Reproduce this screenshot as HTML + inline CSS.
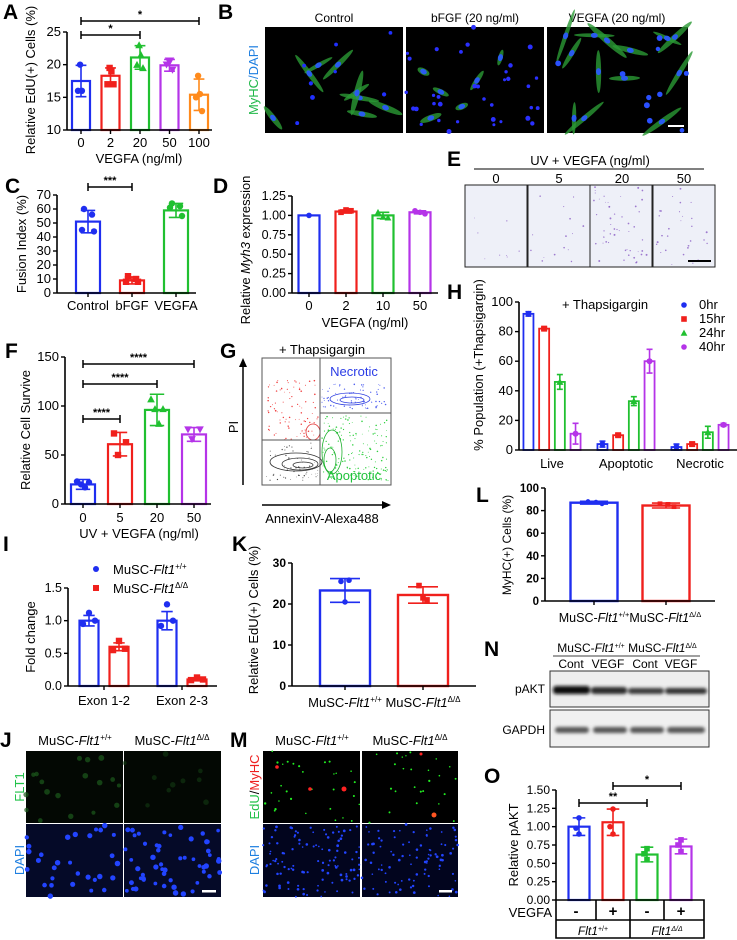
<!DOCTYPE html>
<html><head><meta charset="utf-8"><style>
html,body{margin:0;padding:0;background:#fff;}
svg{display:block;font-family:"Liberation Sans",Arial,sans-serif;}
</style></head><body>
<svg id="fig" width="737" height="940" viewBox="0 0 737 940" xmlns="http://www.w3.org/2000/svg">
<g font-weight="bold" font-size="21" fill="#000">
<text x="3" y="19">A</text>
<text x="218" y="19">B</text>
<text x="5" y="193">C</text>
<text x="213" y="193">D</text>
<text x="447" y="166">E</text>
<text x="5" y="358">F</text>
<text x="220" y="358">G</text>
<text x="447" y="299">H</text>
<text x="3" y="551">I</text>
<text x="232" y="551">K</text>
<text x="476" y="502">L</text>
<text x="484" y="656">N</text>
<text x="0" y="747">J</text>
<text x="230" y="747">M</text>
<text x="484" y="783">O</text>
</g>

<!-- Panel B -->
<g font-size="12">
<text x="334" y="22" text-anchor="middle">Control</text>
<text x="475" y="22" text-anchor="middle">bFGF (20 ng/ml)</text>
<text x="617" y="22" text-anchor="middle">VEGFA (20 ng/ml)</text>
<text transform="translate(258,80) rotate(-90)" text-anchor="middle" font-size="13"><tspan fill="#22b84a">MyHC</tspan><tspan fill="#1e7fe0">/DAPI</tspan></text>
<rect x="265" y="27" width="138" height="106" fill="#000" id="b1"/>
<rect x="406" y="27" width="138" height="106" fill="#000" id="b2"/>
<rect x="547" y="27" width="141" height="106" fill="#000" id="b3"/>
</g>

<!-- Panel E -->
<g font-size="13">
<text x="590" y="165" text-anchor="middle">UV + VEGFA (ng/ml)</text>
<line x1="474" y1="169" x2="704" y2="169" stroke="#000" stroke-width="1"/>
<text x="496" y="183" text-anchor="middle">0</text>
<text x="559" y="183" text-anchor="middle">5</text>
<text x="622" y="183" text-anchor="middle">20</text>
<text x="684" y="183" text-anchor="middle">50</text>
<g id="eimgs"></g>
</g>

<!-- Panel G -->
<g font-size="13">
<text x="322" y="354" text-anchor="middle">+ Thapsigargin</text>
<rect x="262" y="358" width="129" height="127" fill="#fff" stroke="#555" stroke-width="1"/>
<g id="gdots"></g>
<line x1="320" y1="358" x2="320" y2="485" stroke="#555"/>
<line x1="320" y1="413" x2="391" y2="413" stroke="#555"/>
<line x1="262" y1="440" x2="320" y2="440" stroke="#555"/>
<text x="354" y="376" text-anchor="middle" fill="#2a3be6" font-size="13">Necrotic</text>
<text x="354" y="480" text-anchor="middle" fill="#1fc23a" font-size="13">Apoptotic</text>
<line x1="243" y1="485" x2="243" y2="366" stroke="#000" stroke-width="1.5"/>
<polygon points="243,358 239,367 247,367" fill="#000"/>
<line x1="262" y1="505" x2="383" y2="505" stroke="#000" stroke-width="1.5"/>
<polygon points="391,505 382,501 382,509" fill="#000"/>
<text transform="translate(238,427) rotate(-90)" text-anchor="middle">PI</text>
<text x="322" y="523" text-anchor="middle">AnnexinV-Alexa488</text>
</g>

<!-- Panel N -->
<g font-size="12">
<text x="627" y="652" text-anchor="middle">MuSC-<tspan font-style="italic">Flt1</tspan><tspan font-size="7" dy="-4">+/+</tspan><tspan dy="4"> MuSC-</tspan><tspan font-style="italic">Flt1</tspan><tspan font-size="7" dy="-4">Δ/Δ</tspan></text>
<line x1="553" y1="656" x2="700" y2="656" stroke="#000" stroke-width="0.8"/>
<text x="571" y="668" text-anchor="middle">Cont</text>
<text x="608" y="668" text-anchor="middle">VEGF</text>
<text x="645" y="668" text-anchor="middle">Cont</text>
<text x="681" y="668" text-anchor="middle">VEGF</text>
<text x="545" y="693" text-anchor="end">pAKT</text>
<text x="545" y="734" text-anchor="end">GAPDH</text>
<defs>
<filter id="blur2"><feGaussianBlur stdDeviation="1.6"/></filter>
</defs>
<rect x="550" y="671" width="159" height="36" fill="#eeeeee" stroke="#333" stroke-width="1"/>
<rect x="550" y="710" width="159" height="37" fill="#f0f0f0" stroke="#333" stroke-width="1"/>
<g filter="url(#blur2)">
<rect x="553" y="686" width="37" height="8" rx="3" fill="#111"/>
<rect x="591" y="687" width="36" height="7" rx="3" fill="#2a2a2a"/>
<rect x="628" y="688" width="36" height="6" rx="3" fill="#3a3a3a"/>
<rect x="665" y="688" width="42" height="6" rx="3" fill="#333"/>
<rect x="555" y="727" width="34" height="6" rx="3" fill="#555"/>
<rect x="593" y="727" width="34" height="6" rx="3" fill="#555"/>
<rect x="630" y="727" width="34" height="6" rx="3" fill="#555"/>
<rect x="667" y="727" width="38" height="6" rx="3" fill="#555"/>
</g>
</g>

<!-- Panels J and M -->
<g font-size="13">
<text x="75" y="745" text-anchor="middle">MuSC-<tspan font-style="italic">Flt1</tspan><tspan font-size="8" dy="-5">+/+</tspan></text>
<text x="172" y="745" text-anchor="middle">MuSC-<tspan font-style="italic">Flt1</tspan><tspan font-size="8" dy="-5">Δ/Δ</tspan></text>
<text transform="translate(24,787) rotate(-90)" text-anchor="middle" fill="#22c24a" font-size="13">FLT1</text>
<text transform="translate(24,860) rotate(-90)" text-anchor="middle" fill="#1e7fe0" font-size="13">DAPI</text>
<rect x="26" y="751" width="97" height="72" fill="#030803"/>
<rect x="124" y="751" width="97" height="72" fill="#030803"/>
<rect x="26" y="824" width="97" height="73" fill="#050a28"/>
<rect x="124" y="824" width="97" height="73" fill="#050a28"/>
<g id="jcells"></g>
<rect x="202" y="890" width="14" height="2.5" fill="#fff"/>
</g>
<g font-size="13">
<text x="312" y="745" text-anchor="middle">MuSC-<tspan font-style="italic">Flt1</tspan><tspan font-size="8" dy="-5">+/+</tspan></text>
<text x="410" y="745" text-anchor="middle">MuSC-<tspan font-style="italic">Flt1</tspan><tspan font-size="8" dy="-5">Δ/Δ</tspan></text>
<text transform="translate(259,787) rotate(-90)" text-anchor="middle" font-size="13"><tspan fill="#22c24a">EdU</tspan><tspan fill="#000">/</tspan><tspan fill="#ee2020">MyHC</tspan></text>
<text transform="translate(259,860) rotate(-90)" text-anchor="middle" fill="#1e7fe0" font-size="13">DAPI</text>
<rect x="263" y="751" width="97" height="72" fill="#000"/>
<rect x="362" y="751" width="96" height="72" fill="#000"/>
<rect x="263" y="824" width="97" height="73" fill="#02051e"/>
<rect x="362" y="824" width="96" height="73" fill="#02051e"/>
<g id="mcells"></g>
<rect x="439" y="890" width="13" height="2.5" fill="#fff"/>
</g>

<g id="charts"></g>
</svg>
<script>
// ---------------- DATA ----------------
const aCats = ['0','2','20','50','100'];
const aVals = [17.5, 18.3, 21.1, 19.9, 15.4];
const aErr = [2.4, 1.2, 1.8, 0.9, 2.4];
const aPts = [[20,16,16],[19.5,19,17,17],[23,21.5,20,19.5],[20.6,20.6,20,19.2],[18.3,15.5,15,12.9]];
const aTicks = [10,15,20,25];

const cCats = ['Control','bFGF','VEGFA'];
const cVals = [51, 9, 59];
const cErr = [8, 2.5, 5];
const cPts = [[60,56,45,44],[12,10,8,8],[64,62,61,55]];
const cTicks = [0,10,20,30,40,50,60,70];

const dCats = ['0','2','10','50'];
const dVals = [1.0, 1.05, 1.0, 1.04];
const dErr = [0, 0.02, 0.04, 0.02];
const dPts = [[1.0],[1.04,1.07,1.06],[1.04,0.98,0.97],[1.06,1.04,1.02]];
const dTicks = [0,0.25,0.5,0.75,1.0,1.25];

const fCats = ['0','5','20','50'];
const fVals = [20, 61, 96, 71];
const fErr = [5, 12, 16, 7];
const fPts = [[23,22,20,17],[72,63,50],[107,97,97,82],[76,76,66]];
const fTicks = [0,50,100,150];

const hGroups = ['Live','Apoptotic','Necrotic'];
const hSeries = ['0hr','15hr','24hr','40hr'];
const hVals = [[92,82,46,11],[4,10,33,60],[2,4,12,17]];
const hErr = [[1.5,1,5,7],[2,1,3,8],[2,1,4,1]];
const hTicks = [0,20,40,60,80,100];

const iGroups = ['Exon 1-2','Exon 2-3'];
const iVals = [[1.0,0.6],[1.0,0.1]];
const iErr = [[0.08,0.06],[0.14,0.02]];
const iPts = [[[1.12,1.0,0.95],[0.69,0.57,0.55]],[[1.25,1.0,0.92],[0.13,0.1,0.09]]];
const iTicks = [0,0.5,1.0,1.5];

const kVals = [23.3, 22.2];
const kErr = [2.9, 2.0];
const kPts = [[25.5,25.8,20.5],[24.5,21,21.5]];
const kTicks = [0,10,20,30];

const lVals = [87, 84.5];
const lErr = [1.2, 2.2];
const lPts = [[88,87.5,86],[86,85.5,83.5]];
const lTicks = [0,20,40,60,80,100];

const oVals = [1.0, 1.06, 0.62, 0.73];
const oErr = [0.12, 0.18, 0.1, 0.1];
const oPts = [[1.12,0.98,0.9],[1.24,1.0,0.9],[0.7,0.63,0.55],[0.82,0.75,0.66]];
const oTicks = [0,0.25,0.5,0.75,1.0,1.25,1.5];
const oVegfa = ['-','+','-','+'];

// ---------------- HELPERS ----------------
const NS = 'http://www.w3.org/2000/svg';
const root = document.getElementById('charts');
const BL='#1f2ef0', RD='#f0201c', GR='#20c030', PU='#b534e8', OR='#ff8a1c';
function mk(tag, parent, attrs){ const e=document.createElementNS(NS,tag); for(const k in attrs) e.setAttribute(k,attrs[k]); (parent||root).appendChild(e); return e; }
function lin(d0,d1,r0,r1){ const f = v => r0 + (v-d0)/(d1-d0)*(r1-r0); f.base=d0; return f; }
function marker(g, shape, x, y, color, s){
  s = s||3.2; let e;
  if(shape==='c'){ e=mk('circle',g,{cx:x,cy:y,r:s,fill:color}); }
  else if(shape==='s'){ e=mk('rect',g,{x:x-s,y:y-s,width:2*s,height:2*s,fill:color}); }
  else if(shape==='t'){ e=mk('polygon',g,{points:`${x},${y-s*1.2} ${x-s*1.2},${y+s} ${x+s*1.2},${y+s}`,fill:color}); }
  else { e=mk('polygon',g,{points:`${x},${y+s*1.2} ${x-s*1.2},${y-s} ${x+s*1.2},${y-s}`,fill:color}); }
  
  
}
function yAxis(g, x, y, ticks, fmt, fs, bold){
  const ax=mk('line',g,{x1:x,y1:y(ticks[0]),x2:x,y2:y(ticks[ticks.length-1]),stroke:'#000','stroke-width':1.6});
  
  
  ticks.forEach(t=>{
    const tl=mk('line',g,{x1:x-4,y1:y(t),x2:x,y2:y(t),stroke:'#000','stroke-width':1.4});
    
    
    const tx=mk('text',g,{x:x-6,y:y(t)+4,'text-anchor':'end','font-size':fs||12,'font-weight':bold?'bold':'normal'});
    tx.textContent=fmt?fmt(t):String(t);
    
    
  });
}
function xAxisLine(g, x1, x2, y){
  const l=mk('line',g,{x1:x1,y1:y,x2:x2,y2:y,stroke:'#000','stroke-width':1.6});
  
  
}
function txt(g, s, x, y, opts){
  const t=mk('text',g,Object.assign({x:x,y:y,'text-anchor':'middle','font-size':13},opts||{}));
  t.textContent=s; return t;
}
function bar(g, cx, w, y, v, e, color, sw, name){
  const b=mk('rect',g,{x:cx-w/2,y:y(v),width:w,height:y(y.base)-y(v),fill:'none',stroke:color,'stroke-width':sw||2});
  
  
  if(e>0){
    const eg=mk('path',g,{d:`M${cx} ${y(v+e)}V${y(v-e)}M${cx-w*0.3} ${y(v+e)}H${cx+w*0.3}M${cx-w*0.3} ${y(v-e)}H${cx+w*0.3}`,stroke:color,'stroke-width':1.6,fill:'none'});
    
    
  }
}
function sig(g, x1, x2, y, s){
  const p=mk('path',g,{d:`M${x1} ${y-4}V${y+4}M${x1} ${y}H${x2}M${x2} ${y-4}V${y+4}`,stroke:'#000','stroke-width':1.5,fill:'none'});
  
  
  const t=txt(g,s,(x1+x2)/2,y-3,{'font-size':11,'font-weight':'bold'});
  
  
}
function ylabel(g, s, x, y, fs, bold){
  const t=mk('text',g,{transform:`translate(${x},${y}) rotate(-90)`,'text-anchor':'middle','font-size':fs||13,'font-weight':bold?'bold':'normal'});
  t.innerHTML=s;
  
  
}
function xTick(g,x,y){
  const l=mk('line',g,{x1:x,y1:y,x2:x,y2:y+4,stroke:'#000','stroke-width':1.4});
  
  
}
const f2 = t=>t.toFixed(2), f1 = t=>t.toFixed(1);

// ---------------- PANEL A ----------------
(function(){
  const g=mk('g',root,{});  
  const y=lin(10,25,130,32), x=i=>81+i*29.5, cols=[BL,RD,GR,PU,OR], sh=['c','s','t','v','c'];
  aVals.forEach((v,i)=>{ bar(g,x(i),18,y,v,aErr[i],cols[i],2.2); aPts[i].forEach((p,j)=>marker(g,sh[i],x(i)+(j%2?3:-3)*(j>1?1:0.3),y(p),cols[i])); });
  yAxis(g,67,y,aTicks,null,13); xAxisLine(g,67,212,130);
  aCats.forEach((c,i)=>{ xTick(g,x(i),130); const t=txt(g,c,x(i),147,{'font-size':13});   });
  const xt=txt(g,'VEGFA (ng/ml)',139,163);  
  ylabel(g,'Relative EdU(+) Cells (%)',35,80,13);
  sig(g,x(0),x(4),21,'*'); sig(g,x(0),x(2),35,'*');
})();

// ---------------- PANEL C ----------------
(function(){
  const g=mk('g',root,{});  
  const y=lin(0,70,293,195), x=i=>88+i*44, cols=[BL,RD,GR], sh=['c','s','c'];
  cVals.forEach((v,i)=>{ bar(g,x(i),24,y,v,cErr[i],cols[i],2.2); cPts[i].forEach((p,j)=>marker(g,sh[i],x(i)+[-4,4,-6,6][j],y(p),cols[i])); });
  yAxis(g,57,y,cTicks,null,13); xAxisLine(g,57,196,293);
  cCats.forEach((c,i)=>{ xTick(g,x(i),293); const t=txt(g,c,x(i),310);   });
  ylabel(g,'Fusion Index (%)',26,244,13);
  sig(g,x(0),x(1),187,'***');
})();

// ---------------- PANEL D ----------------
(function(){
  const g=mk('g',root,{});  
  const y=lin(0,1.25,293,196), x=i=>309+i*37, cols=[BL,RD,GR,PU], sh=['c','s','t','c'];
  dVals.forEach((v,i)=>{ bar(g,x(i),21,y,v,dErr[i],cols[i],2.2); dPts[i].forEach((p,j)=>marker(g,sh[i],x(i)+[-5,0,5][j]*(dPts[i].length>1?1:0),y(p),cols[i],2.8)); });
  yAxis(g,292,y,dTicks,f2,12.5); xAxisLine(g,292,438,293);
  dCats.forEach((c,i)=>{ xTick(g,x(i),293); const t=txt(g,c,x(i),310);   });
  const xt=txt(g,'VEGFA (ng/ml)',365,327);  
  ylabel(g,'Relative <tspan font-style="italic">Myh3</tspan> expression',250,250,13);
})();

// ---------------- PANEL F ----------------
(function(){
  const g=mk('g',root,{});  
  const y=lin(0,150,504,357), x=i=>83+i*37, cols=[BL,RD,GR,PU], sh=['c','s','t','v'];
  fVals.forEach((v,i)=>{ bar(g,x(i),24,y,v,fErr[i],cols[i],2.2); fPts[i].forEach((p,j)=>marker(g,sh[i],x(i)+[-6,6,-2,2][j],y(p),cols[i])); });
  yAxis(g,65,y,fTicks,null,13); xAxisLine(g,65,211,504);
  fCats.forEach((c,i)=>{ xTick(g,x(i),504); const t=txt(g,c,x(i),522,{'font-size':13});   });
  const xt=txt(g,'UV + VEGFA (ng/ml)',139,538);  
  ylabel(g,'Relative Cell Survive',30,430,13);
  sig(g,x(0),x(3),364,'****'); sig(g,x(0),x(2),384,'****'); sig(g,x(0),x(1),419,'****');
})();

// ---------------- PANEL H ----------------
(function(){
  const g=mk('g',root,{});  
  const y=lin(0,100,450,302), cols=[BL,RD,GR,PU], sh=['c','s','t','c'];
  const x=(gi,j)=>552+gi*74+(j-1.5)*15.7;
  hVals.forEach((row,gi)=>row.forEach((v,j)=>{ bar(g,x(gi,j),10,y,v,hErr[gi][j],cols[j],1.8); marker(g,sh[j],x(gi,j),y(v),cols[j],3); }));
  yAxis(g,519,y,hTicks,null,13); xAxisLine(g,519,737,450);
  hGroups.forEach((c,i)=>{ const t=txt(g,c,552+i*74,468,{'font-size':13});   });
  ylabel(g,'% Population (+Thapsigargin)',483,365,13);
  const tt=txt(g,'+ Thapsigargin',605,309);  
  hSeries.forEach((s,j)=>{
    const lg=mk('g',g,{});  
    marker(lg,sh[j],684,305+j*14,cols[j],2.8);
    const t=mk('text',lg,{x:699,y:309+j*14,'font-size':13}); t.textContent=s;
  });
})();

// ---------------- PANEL I ----------------
(function(){
  const g=mk('g',root,{});  
  const y=lin(0,1.5,686,588), cols=[BL,RD], sh=['c','s'];
  const x=(gi,j)=>104+gi*78+(j-0.5)*30;
  iVals.forEach((row,gi)=>row.forEach((v,j)=>{ bar(g,x(gi,j),19,y,v,iErr[gi][j],cols[j],2.2); iPts[gi][j].forEach((p,k)=>marker(g,sh[j],x(gi,j)+[0,6,-6][k],y(p),cols[j])); }));
  yAxis(g,68,y,iTicks,f1,12.5); xAxisLine(g,68,217,686);
  iGroups.forEach((c,i)=>{ xTick(g,104+i*78,686); const t=txt(g,c,104+i*78,705);   });
  ylabel(g,'Fold change',35,637,13);
  ['+/+','Δ/Δ'].forEach((s,j)=>{
    const lg=mk('g',g,{});  
    marker(lg,sh[j],96,569+j*19,cols[j],3);
    const t=mk('text',lg,{x:113,y:574+j*19,'font-size':13});
    t.innerHTML='MuSC-<tspan font-style="italic">Flt1</tspan><tspan font-size="8" dy="-5">'+s+'</tspan>';
  });
})();

// ---------------- PANEL K ----------------
(function(){
  const g=mk('g',root,{});  
  const y=lin(0,30,686,563), x=i=>345+i*78, cols=[BL,RD], sh=['c','s'];
  kVals.forEach((v,i)=>{ bar(g,x(i),50,y,v,kErr[i],cols[i],2.4); kPts[i].forEach((p,j)=>marker(g,sh[i],x(i)+[-4,4,0][j],y(p),cols[i],2.8)); });
  yAxis(g,292,y,kTicks,null,12,true); xAxisLine(g,292,476,686);
  ['+/+','Δ/Δ'].forEach((s,i)=>{ xTick(g,x(i),686); const t=mk('text',g,{x:x(i),y:707,'text-anchor':'middle','font-size':13}); t.innerHTML='MuSC-<tspan font-style="italic">Flt1</tspan><tspan font-size="8" dy="-5">'+s+'</tspan>';   });
  ylabel(g,'Relative EdU(+) Cells (%)',258,620,13);
})();

// ---------------- PANEL L ----------------
(function(){
  const g=mk('g',root,{});  
  const y=lin(0,100,601,488), x=i=>594+i*72, cols=[BL,RD], sh=['c','s'];
  lVals.forEach((v,i)=>{ bar(g,x(i),47,y,v,lErr[i],cols[i],2.4); lPts[i].forEach((p,j)=>marker(g,sh[i],x(i)+[-6,2,8][j],y(p),cols[i],2.4)); });
  yAxis(g,545,y,lTicks,null,11.5,true); xAxisLine(g,545,715,601);
  xTick(g,x(0),601); xTick(g,x(1),601);
  const t=mk('text',g,{x:630,y:622,'text-anchor':'middle','font-size':12.5}); t.innerHTML='MuSC-<tspan font-style="italic">Flt1</tspan><tspan font-size="7.5" dy="-5">+/+</tspan><tspan dy="5">MuSC-</tspan><tspan font-style="italic">Flt1</tspan><tspan font-size="7.5" dy="-5">Δ/Δ</tspan>';
   
  ylabel(g,'MyHC(+) Cells (%)',511,545,12);
})();

// ---------------- PANEL O ----------------
(function(){
  const g=mk('g',root,{});  
  const y=lin(0,1.5,900,790), x=i=>579+i*34, cols=[BL,RD,GR,PU], sh=['c','c','s','s'];
  oVals.forEach((v,i)=>{ bar(g,x(i),21,y,v,oErr[i],cols[i],2.2); oPts[i].forEach((p,j)=>marker(g,sh[i],x(i)+[0,-3,0][j],y(p),cols[i],2.8)); });
  yAxis(g,556,y,oTicks,f2,12);
  ylabel(g,'Relative pAKT',518,845,13);
  sig(g,x(0),x(2),803,'**'); sig(g,x(1),x(3),786,'*');
  const tb=mk('path',g,{d:'M556 900H704V938H556ZM556 920H704M596 900V920M630 900V938M664 900V920',fill:'none',stroke:'#000','stroke-width':1.6});
   
  oVegfa.forEach((s,i)=>{ const t=txt(g,s,x(i)-(i===0?3:0),916,{'font-size':15,'font-weight':'bold'});   });
  const vl=txt(g,'VEGFA',552,917,{'text-anchor':'end'});  
  const g1=mk('text',g,{x:593,y:935,'text-anchor':'middle','font-size':12,'font-style':'italic'}); g1.innerHTML='Flt1<tspan font-size="7" dy="-4" font-style="normal">+/+</tspan>';
   
  const g2=mk('text',g,{x:667,y:935,'text-anchor':'middle','font-size':12,'font-style':'italic'}); g2.innerHTML='Flt1<tspan font-size="7" dy="-4">Δ/Δ</tspan>';
   
})();

// ---------------- DECORATIVE IMAGE TEXTURES ----------------
let seed=7; function rnd(){ seed=(seed*16807)%2147483647; return (seed-1)/2147483646; }
function cells(gid, x0,y0,w,h,n,color,r1,r2,op){
  const g=document.getElementById(gid);
  for(let i=0;i<n;i++){ mk('circle',g,{cx:x0+rnd()*w,cy:y0+rnd()*h,r:r1+rnd()*(r2-r1),fill:color,opacity:op||1}); }
}
function fibers(gid,x0,y0,w,h,n,len){
  const g=document.getElementById(gid);
  for(let i=0;i<n;i++){ const cx=x0+8+rnd()*(w-16), cy=y0+8+rnd()*(h-16), a=rnd()*180;
    mk('ellipse',g,{cx:cx,cy:cy,rx:len*(0.6+rnd()*0.6),ry:1.8+rnd()*1.5,fill:'#2a9a35',opacity:0.8,transform:`rotate(${a} ${cx} ${cy})`});
    mk('ellipse',g,{cx:cx,cy:cy,rx:3.5,ry:2.5,fill:'#2a5bf0',transform:`rotate(${a} ${cx} ${cy})`}); }
}
const bg=mk('g',document.getElementById('fig'),{id:'bdec'});  
fibers('bdec',265,27,138,106,9,20); cells('bdec',265,27,138,106,8,'#2030ff',1.5,2.5);
fibers('bdec',406,27,138,106,6,10); cells('bdec',406,27,138,106,35,'#2a30ff',1.5,2.5);
fibers('bdec',547,27,141,106,13,24); cells('bdec',547,27,141,106,10,'#2a50ff',2,3);
mk('rect',bg,{x:668,y:125,width:16,height:2,fill:'#fff'});
const eg=document.getElementById('eimgs');
[465,528,590,653].forEach((x,k)=>{ const r=mk('rect',eg,{x:x,y:185,width:62,height:82,fill:'#eef0f8',stroke:'#222','stroke-width':1});   cells('eimgs',x+2,187,58,78,[8,15,50,30][k],'#8a5cc4',0.4,1,0.8); });
mk('rect',eg,{x:688,y:260,width:23,height:2,fill:'#000'});
const gd=document.getElementById('gdots');
cells('gdots',268,380,50,60,90,'#f04040',0.4,0.8);
cells('gdots',322,384,66,25,70,'#5060f0',0.4,0.8);
cells('gdots',322,416,66,65,160,'#30d040',0.4,0.8);
cells('gdots',266,443,52,38,60,'#444',0.3,0.7);
[[296,462,26,9],[300,464,18,6],[303,465,10,3]].forEach(e=>mk('ellipse',gd,{cx:e[0],cy:e[1],rx:e[2],ry:e[3],fill:'none',stroke:'#333','stroke-width':0.8}));
[[350,399,20,6],[352,400,12,3]].forEach(e=>mk('ellipse',gd,{cx:e[0],cy:e[1],rx:e[2],ry:e[3],fill:'none',stroke:'#3040e0','stroke-width':0.8}));
[[332,452,10,22],[330,460,6,12]].forEach(e=>mk('ellipse',gd,{cx:e[0],cy:e[1],rx:e[2],ry:e[3],fill:'none',stroke:'#20b030','stroke-width':0.8}));
mk('ellipse',gd,{cx:313,cy:432,rx:7,ry:8,fill:'none',stroke:'#e03030','stroke-width':0.8});
cells('jcells',26,751,97,72,18,'#1c5a1c',2,3,0.7);
cells('jcells',124,751,97,72,10,'#123a12',2,3,0.6);
cells('jcells',26,824,97,73,30,'#2244ff',1.8,2.8);
cells('jcells',124,824,97,73,55,'#2244ff',1.8,2.8);
cells('mcells',263,751,97,72,30,'#22ee22',0.7,1.2);
cells('mcells',362,751,96,72,25,'#22ee22',0.7,1.2);
mk('circle',document.getElementById('mcells'),{cx:277,cy:767,r:1.8,fill:'#f22'});
mk('circle',document.getElementById('mcells'),{cx:310,cy:789,r:1.8,fill:'#f22'});
mk('circle',document.getElementById('mcells'),{cx:344,cy:789,r:2.5,fill:'#f22'});
mk('circle',document.getElementById('mcells'),{cx:421,cy:754,r:1.5,fill:'#f22'});
mk('circle',document.getElementById('mcells'),{cx:434,cy:815,r:2.5,fill:'#f52'});
cells('mcells',263,824,97,73,110,'#2244ff',0.8,1.4);
cells('mcells',362,824,96,73,90,'#2244ff',0.8,1.4);
</script>
</body></html>
